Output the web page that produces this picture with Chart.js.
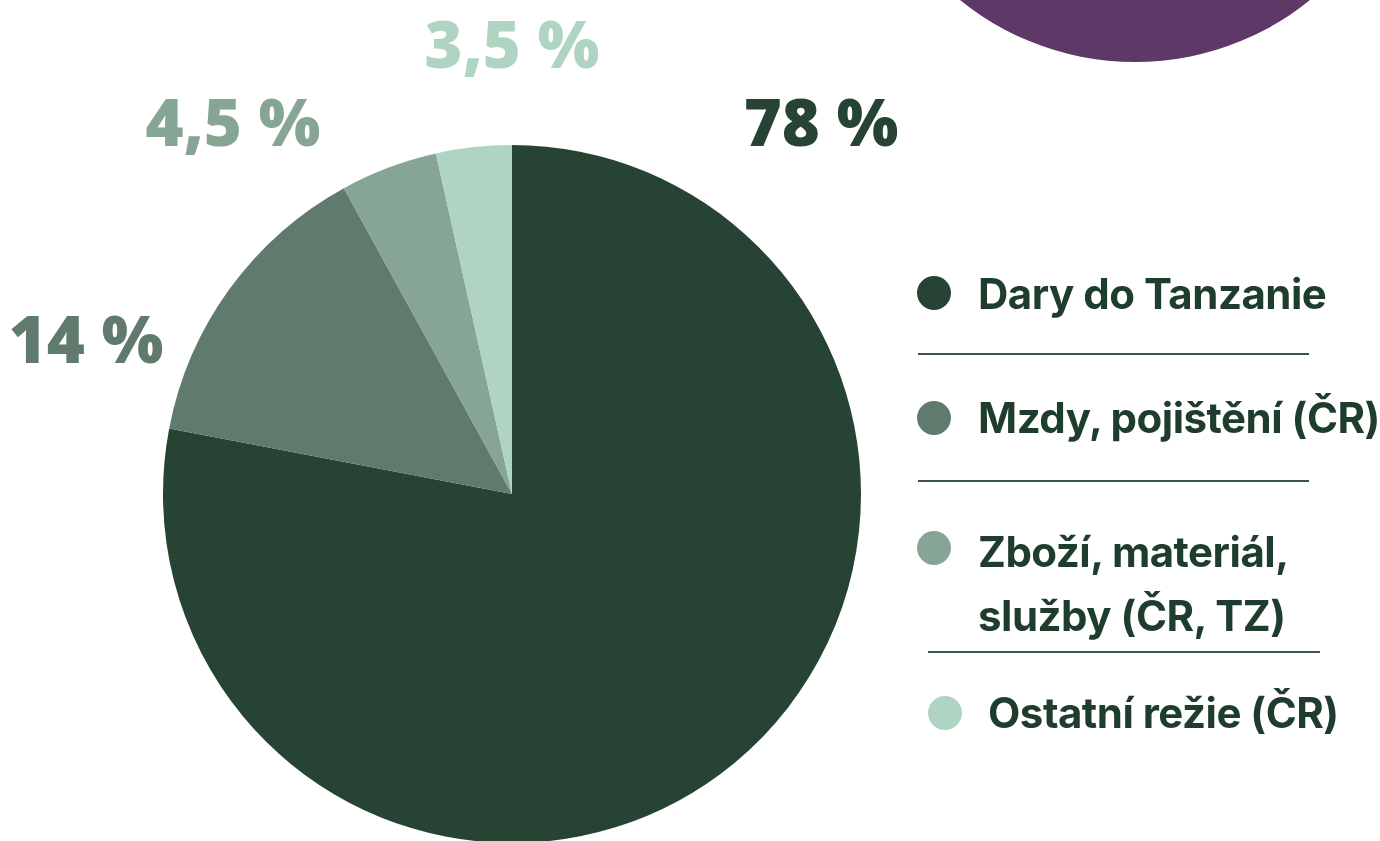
<!DOCTYPE html>
<html><head><meta charset="utf-8">
<script src="https://cdn.jsdelivr.net/npm/chart.js@4"></script>
<style>
html,body{margin:0;padding:0;background:#fff;overflow:hidden;width:1380px;height:841px;}
#wrap{position:absolute;left:0;top:0;width:1380px;height:900px;}
#blob{position:absolute;left:857px;top:-494px;width:556px;height:556px;border-radius:50%;background:#5e3866;}
.lg{position:absolute;font-family:Inter,sans-serif;font-weight:700;font-size:42px;color:#1f3d2c;letter-spacing:-0.5px;line-height:64px;white-space:nowrap;}
.dot{position:absolute;width:34px;height:34px;border-radius:50%;}
.sep{position:absolute;height:2px;background:#3b5647;}
</style></head>
<body>
<div id="blob"></div>
<div id="wrap"><canvas id="c" width="1380" height="900"></canvas></div>
<div id="legend"></div>
<script>
const categories = ["Dary do Tanzanie","Mzdy, pojištění (ČR)","Zboží, materiál, služby (ČR, TZ)","Ostatní režie (ČR)"];
const values = [78, 14, 4.5, 3.5];
const valueLabels = ["78 %","14 %","4,5 %","3,5 %"];
const colors = ["#264333","#607b6e","#86a595","#afd4c2"];

const labelPos = [[821,125],[86,342],[233,125],[512,47]];
const labelPlugin = {
  id:'pctLabels',
  afterDraw(chart){
    const ctx = chart.ctx;
    ctx.save();
    ctx.font = '800 65px "Open Sans", sans-serif';
    ctx.textAlign='center'; ctx.textBaseline='middle';
    valueLabels.forEach((t,i)=>{ ctx.fillStyle=colors[i]; ctx.fillText(t,labelPos[i][0],labelPos[i][1]+2); });
    ctx.restore();
  }
};

new Chart(document.getElementById('c'),{
  type:'pie',
  data:{labels:categories,datasets:[{data:values,backgroundColor:colors,borderWidth:0}]},
  options:{responsive:false,animation:false,
    layout:{padding:{left:163,right:519,top:145,bottom:57}},
    plugins:{legend:{display:false},tooltip:{enabled:false}}},
  plugins:[labelPlugin]
});

// legend
const lg = document.getElementById('legend');
const items = [
  {lines:["Dary do Tanzanie"], dot:[917,276], text:[978,262]},
  {lines:["Mzdy, pojištění (ČR)"], dot:[917,401], text:[978,386]},
  {lines:["Zboží, materiál,","služby (ČR, TZ)"], dot:[917,531], text:[978,520]},
  {lines:["Ostatní režie (ČR)"], dot:[928,696], text:[988,681]}
];
items.forEach((it,i)=>{
  const d=document.createElement('div'); d.className='dot';
  d.style.left=it.dot[0]+'px'; d.style.top=it.dot[1]+'px'; d.style.background=colors[i]; lg.appendChild(d);
  const t=document.createElement('div'); t.className='lg';
  t.style.left=it.text[0]+'px'; t.style.top=it.text[1]+'px';
  t.innerHTML=it.lines.join('<br>'); lg.appendChild(t);
});
[[918,353,391],[918,480,391],[928,651,392]].forEach(s=>{
  const e=document.createElement('div'); e.className='sep';
  e.style.left=s[0]+'px'; e.style.top=s[1]+'px'; e.style.width=s[2]+'px'; lg.appendChild(e);
});
</script>
</body></html>
